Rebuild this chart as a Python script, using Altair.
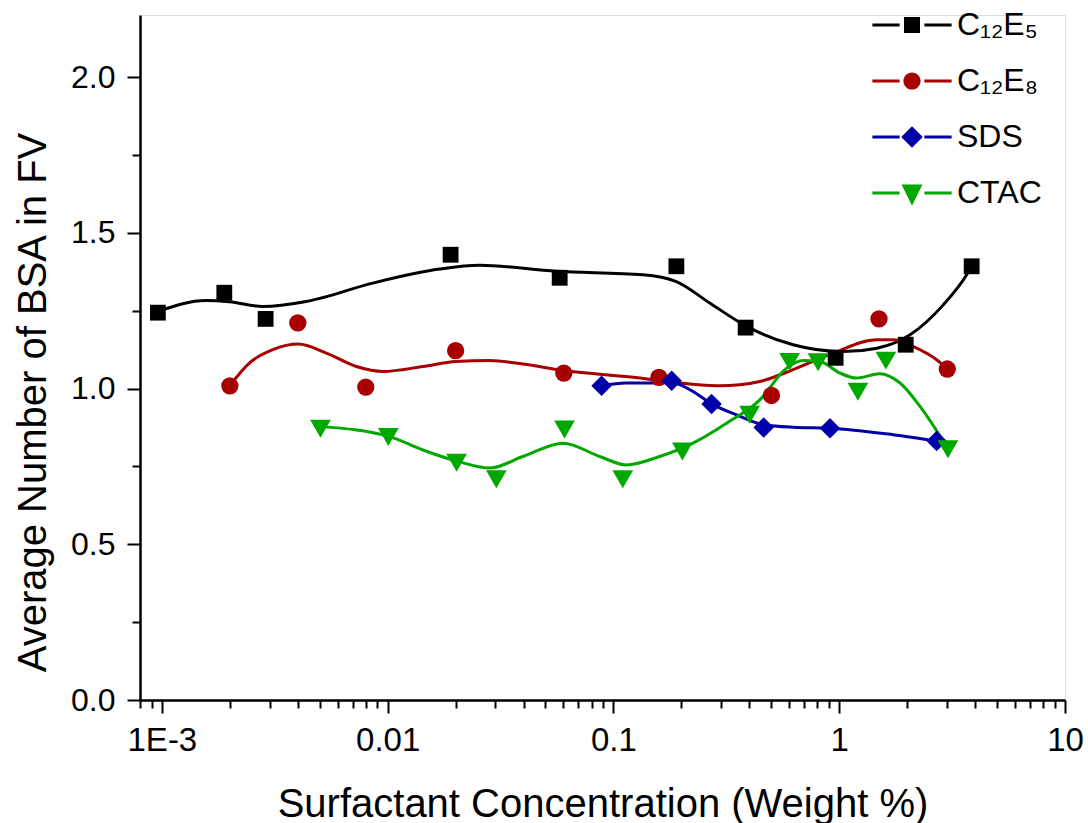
import altair as alt
import pandas as pd

# ---------------- data ----------------
series_order = ["C12E5", "C12E8", "SDS", "CTAC"]
series_colors = ["#000000", "#A80000", "#0000A8", "#00A800"]
series_shapes = ["square", "circle", "diamond", "triangle-down"]
series_sizes = [250, 300, 420, 430]

# measured points
c12e5_x = [0.00096, 0.00189, 0.00288, 0.0190, 0.0578, 0.190, 0.385, 0.964, 1.97, 3.86]
c12e5_y = [1.244, 1.308, 1.224, 1.430, 1.356, 1.393, 1.196, 1.099, 1.141, 1.393]

c12e8_x = [0.0020, 0.0040, 0.0080, 0.0200, 0.0603, 0.159, 0.501, 1.50, 3.01]
c12e8_y = [1.009, 1.211, 1.005, 1.122, 1.050, 1.036, 0.978, 1.224, 1.063]

sds_x = [0.0886, 0.181, 0.272, 0.463, 0.910, 2.70]
sds_y = [1.009, 1.025, 0.951, 0.875, 0.873, 0.832]

ctac_x = [0.00504, 0.01007, 0.0202, 0.0303, 0.0607, 0.110, 0.202, 0.401, 0.603, 0.806, 1.21, 1.61, 3.03]
ctac_y = [0.871, 0.845, 0.762, 0.709, 0.869, 0.709, 0.798, 0.916, 1.086, 1.085, 0.990, 1.090, 0.805]

# smoothed curves (vertices read along the drawn spline)
c12e5_cx = [0.000955, 0.00157, 0.00199, 0.00280, 0.00436, 0.00859, 0.0170, 0.0255, 0.0558, 0.135,
            0.190, 0.267, 0.389, 0.625, 1.04, 1.47, 2.06, 2.89, 3.67, 3.86]
c12e5_cy = [1.248, 1.283, 1.279, 1.264, 1.280, 1.339, 1.384, 1.396, 1.377, 1.366,
            1.344, 1.275, 1.200, 1.141, 1.119, 1.130, 1.173, 1.269, 1.366, 1.393]

c12e8_cx = [0.00201, 0.00244, 0.00310, 0.00402, 0.00535, 0.00727, 0.00953, 0.01432, 0.0201, 0.0283,
            0.0397, 0.0603, 0.131, 0.160, 0.296, 0.445, 0.625, 0.940, 1.47, 1.73, 2.13, 2.70, 2.99]
c12e8_cy = [1.012, 1.082, 1.125, 1.143, 1.114, 1.071, 1.055, 1.071, 1.087, 1.090,
            1.079, 1.058, 1.034, 1.026, 1.009, 1.023, 1.061, 1.114, 1.157, 1.157, 1.135, 1.093, 1.066]

sds_cx = [0.0886, 0.114, 0.160, 0.181, 0.225, 0.272, 0.351, 0.463, 0.625, 0.910, 1.73, 2.70]
sds_cy = [1.009, 1.018, 1.018, 1.020, 0.991, 0.951, 0.916, 0.884, 0.876, 0.873, 0.852, 0.832]

ctac_cx = [0.00504, 0.01019, 0.01432, 0.0201, 0.0283, 0.0397, 0.0599, 0.0869, 0.114, 0.160, 0.225,
           0.317, 0.445, 0.585, 0.692, 0.820, 1.007, 1.194, 1.51, 1.86, 2.28, 2.99]
ctac_cy = [0.878, 0.846, 0.803, 0.768, 0.745, 0.782, 0.825, 0.782, 0.755, 0.782, 0.825,
           0.889, 0.964, 1.066, 1.090, 1.087, 1.050, 1.034, 1.048, 1.018, 0.943, 0.814]

x_major = [0.001, 0.01, 0.1, 1, 10]
x_minor = [0.0008, 0.0009, 0.002, 0.003, 0.004, 0.005, 0.006, 0.007, 0.008, 0.009,
           0.02, 0.03, 0.04, 0.05, 0.06, 0.07, 0.08, 0.09,
           0.2, 0.3, 0.4, 0.5, 0.6, 0.7, 0.8, 0.9,
           2, 3, 4, 5, 6, 7, 8, 9]
y_major = [0.0, 0.5, 1.0, 1.5, 2.0]
y_minor = [0.25, 0.75, 1.25, 1.75]

point_sets = {
    "C12E5": (c12e5_x, c12e5_y),
    "C12E8": (c12e8_x, c12e8_y),
    "SDS": (sds_x, sds_y),
    "CTAC": (ctac_x, ctac_y),
}
curve_sets = {
    "C12E5": (c12e5_cx, c12e5_cy),
    "C12E8": (c12e8_cx, c12e8_cy),
    "SDS": (sds_cx, sds_cy),
    "CTAC": (ctac_cx, ctac_cy),
}

FONT = "Liberation Sans"

xscale = alt.Scale(type="log", domain=[0.0008, 10], nice=False)
yscale = alt.Scale(domain=[0, 2.2], nice=False, zero=False)
color_scale = alt.Scale(domain=series_order, range=series_colors)

# legend symbols: line - marker - line (custom paths in unit space)
seg = "M-0.99,-0.035L-0.31,-0.035L-0.31,0.035L-0.99,0.035Z M0.31,-0.035L0.99,-0.035L0.99,0.035L0.31,0.035Z"
legend_paths = [
    seg + " M-0.2,-0.2L0.2,-0.2L0.2,0.2L-0.2,0.2Z",
    seg + " M-0.215,0A0.215,0.215 0 1 0 0.215,0A0.215,0.215 0 1 0 -0.215,0Z",
    seg + " M-0.27,0L0,-0.27L0.27,0L0,0.27Z",
    seg + " M-0.26,-0.21L0.26,-0.21L0,0.32Z",
]
legend_shape_scale = alt.Scale(domain=series_order, range=legend_paths)

leg = alt.Legend(
    title=None, orient="none", legendX=732, legendY=-30, padding=0,
    labelFont=FONT, labelFontSize=32, labelColor="black",
    labelExpr="datum.value === 'C12E5' ? 'C₁₂E₅' : datum.value === 'C12E8' ? 'C₁₂E₈' : datum.value",
    symbolSize=6400, symbolOffset=0, labelOffset=5, rowPadding=0,
    symbolStrokeWidth=0, symbolOpacity=1,
)

major_x = alt.Axis(orient="bottom", values=x_major,
                   labelExpr="datum.value < 0.002 ? '1E-3' : format(datum.value, '~g')",
                   tickSize=13, tickWidth=2, tickColor="black",
                   domainColor="black", domainWidth=2.5,
                   labelFont=FONT, labelFontSize=33, labelColor="black", labelPadding=11,
                   labelFlush=False, labelOverlap=False, grid=False,
                   title="Surfactant Concentration (Weight %)", titleFont=FONT,
                   titleFontSize=40, titleFontWeight="normal", titleColor="black",
                   titleY=116, titleBaseline="alphabetic")
minor_x = alt.Axis(orient="bottom", values=x_minor, labels=False, tickSize=8, tickWidth=2,
                   tickColor="black", domain=False, grid=False, title=None)

major_y = alt.Axis(orient="left", values=y_major, format=".1f",
                   tickSize=13, tickWidth=2, tickColor="black",
                   domainColor="black", domainWidth=2.5,
                   labelFont=FONT, labelFontSize=32, labelColor="black", labelPadding=12,
                   labelFlush=False, labelOverlap=False, grid=False,
                   title="Average Number of BSA in FV", titleFont=FONT,
                   titleFontSize=40, titleFontWeight="normal", titleColor="black",
                   titleAngle=270, titleX=-95, titleY=387, titleAlign="center",
                   titleBaseline="alphabetic")
minor_y = alt.Axis(orient="left", values=y_minor, labels=False, tickSize=8, tickWidth=2,
                   tickColor="black", domain=False, grid=False, title=None)

layers = []
# curves
for k, name in enumerate(series_order):
    xs, ys = curve_sets[name]
    df = pd.DataFrame({"x": xs, "y": ys, "i": list(range(len(xs)))})
    layers.append(
        alt.Chart(df).mark_line(interpolate="monotone", strokeWidth=3,
                                color=series_colors[k]).encode(
            x=alt.X("x:Q", scale=xscale, axis=minor_x if k == 0 else None),
            y=alt.Y("y:Q", scale=yscale, axis=minor_y if k == 0 else None),
            order="i:Q",
        )
    )
# markers
for k, name in enumerate(series_order):
    xs, ys = point_sets[name]
    df = pd.DataFrame({"x": xs, "y": ys})
    layers.append(
        alt.Chart(df).mark_point(shape=series_shapes[k], filled=True, opacity=1, strokeWidth=0,
                                 size=series_sizes[k], color=series_colors[k]).encode(
            x=alt.X("x:Q", scale=xscale, axis=major_x if k == 0 else None),
            y=alt.Y("y:Q", scale=yscale, axis=major_y if k == 0 else None),
        )
    )

# legend-only layer: marks placed beyond the x domain and clipped away
legend_df = pd.DataFrame({"series": series_order, "x": [100.0] * 4, "y": [1.0] * 4})
legend_layer = alt.Chart(legend_df).mark_point(filled=True, opacity=1, strokeWidth=0, size=6400,
                                               clip=True).encode(
    x=alt.X("x:Q", scale=xscale, axis=None),
    y=alt.Y("y:Q", scale=yscale, axis=None),
    color=alt.Color("series:N", scale=color_scale, legend=leg),
    shape=alt.Shape("series:N", scale=legend_shape_scale, legend=leg),
)
layers.append(legend_layer)

chart = alt.layer(*layers).resolve_axis(x="independent", y="independent").properties(
    width=925, height=685,
    padding={"left": 140, "top": 15, "right": 23, "bottom": 123},
    autosize=alt.AutoSizeParams(type="none"),
).configure_view(stroke=None).configure(font=FONT)

chart.save("out.html", embed_options={"renderer": "svg", "actions": False})
